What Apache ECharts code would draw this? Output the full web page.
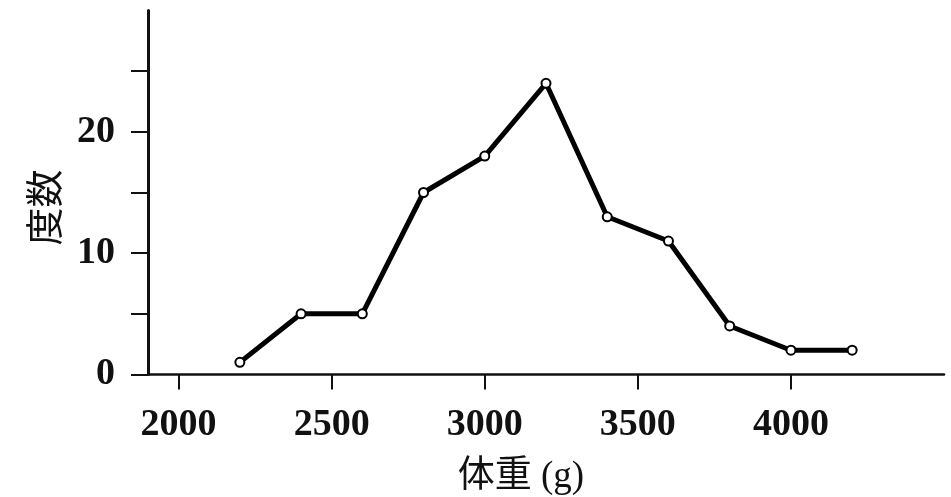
<!DOCTYPE html>
<html>
<head>
<meta charset="utf-8">
<script src="https://cdn.jsdelivr.net/npm/echarts@6/dist/echarts.min.js"></script>
<style>html,body{margin:0;padding:0;background:#fff;}#c{width:951px;height:497px;}</style>
</head>
<body>
<div id="c"></div>
<script>
const weights = [2200, 2400, 2600, 2800, 3000, 3200, 3400, 3600, 3800, 4000, 4200];
const counts = [1, 5, 5, 15, 18, 24, 13, 11, 4, 2, 2];
const xTickValues = [2000, 2500, 3000, 3500, 4000];
const yTickValues = [0, 5, 10, 15, 20, 25];
const yLabelValues = [0, 10, 20];
const xName = '体重 (g)';
const yName = '度数';

const numFont = '"Liberation Serif", "DejaVu Serif", serif';
const cjkFont = '"Noto Sans CJK JP", "Noto Sans CJK SC", sans-serif';
const mixFont = '"Liberation Serif", "Noto Sans CJK JP", serif';

const chart = echarts.init(document.getElementById('c'), null, {renderer: 'canvas'});
chart.setOption({
  animation: false,
  backgroundColor: '#fff',
  grid: {left: 148, right: 7, top: 10.5, bottom: 122.5, containLabel: false, outerBoundsMode: 'none'},
  xAxis: {
    type: 'value', min: 1900, max: 4500,
    name: xName, nameLocation: 'middle', nameGap: 84,
    nameTextStyle: {fontFamily: mixFont, fontSize: 37, color: '#111', padding: [0, 50, 0, 0]},
    axisLine: {onZero: false, lineStyle: {color: '#111', width: 2.5}},
    axisTick: {customValues: xTickValues, inside: false, length: 15, lineStyle: {color: '#111', width: 2}},
    axisLabel: {customValues: xTickValues, formatter: v => String(v), margin: 32, fontFamily: numFont, fontWeight: 'bold', fontSize: 38, color: '#111'},
    splitLine: {show: false}
  },
  yAxis: {
    type: 'value', min: 0, max: 30,
    name: yName, nameLocation: 'middle', nameGap: 85, nameRotate: 90,
    nameTextStyle: {fontFamily: cjkFont, fontSize: 38, color: '#111', padding: [0, 30, 0, 0]},
    axisLine: {show: true, lineStyle: {color: '#111', width: 3}},
    axisTick: {show: true, customValues: yTickValues, length: 17, lineStyle: {color: '#111', width: 2}},
    axisLabel: {customValues: yLabelValues, formatter: v => String(v), margin: 33, fontFamily: numFont, fontWeight: 'bold', fontSize: 38, color: '#111'},
    splitLine: {show: false}
  },
  series: [{
    type: 'line',
    data: weights.map((w, i) => [w, counts[i]]),
    lineStyle: {color: '#000', width: 5},
    symbol: 'circle', symbolSize: 9,
    itemStyle: {color: '#fff', borderColor: '#000', borderWidth: 2},
    z: 3
  }]
});
</script>
</body>
</html>
